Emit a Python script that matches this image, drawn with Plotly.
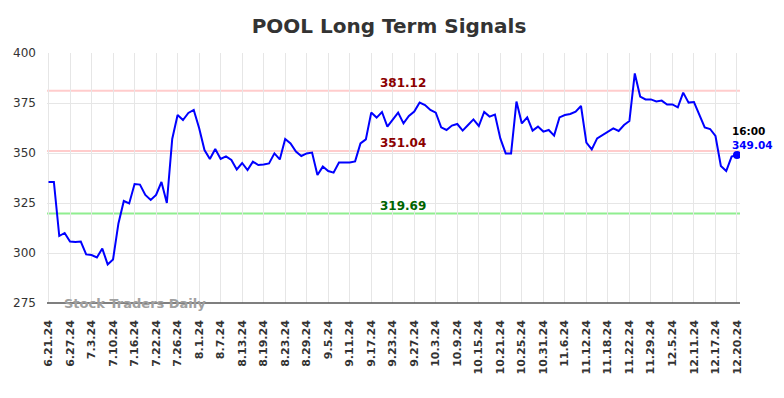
import plotly.graph_objects as go

ticker = "POOL"
values = [
    335.5, 335.5, 308.5, 310.0, 305.7, 305.5, 305.7, 299.3, 299.0, 297.8,
    302.2, 294.3, 296.8, 314.8, 326.0, 324.8, 334.5, 334.2, 329.0, 326.5,
    329.0, 335.5, 325.0, 357.0, 369.0, 366.5, 370.0, 371.5, 362.5, 351.5,
    347.0, 352.0, 347.0, 348.3, 346.5, 341.8, 345.0, 341.5, 345.7, 344.0,
    344.3, 344.8, 349.8, 346.8, 357.0, 354.8, 350.7, 348.5, 349.8, 350.2,
    339.0, 343.2, 341.0, 340.2, 345.2, 345.2, 345.2, 345.8, 354.8, 356.8,
    370.2, 367.7, 370.5, 363.2, 366.5, 370.2, 364.8, 368.5, 370.7, 375.2,
    374.0, 371.5, 370.2, 362.8, 361.5, 363.7, 364.5, 361.2, 364.0, 366.8,
    363.5, 370.5, 368.2, 369.2, 357.3, 349.8, 349.8, 375.7, 364.8, 367.8,
    361.2, 363.2, 360.7, 361.5, 358.7, 367.8, 369.0, 369.5, 370.7, 373.5,
    355.2, 351.8, 357.3, 359.0, 360.7, 362.3, 361.0, 364.0, 366.0, 389.8,
    378.2, 376.8, 376.8, 375.8, 376.2, 374.2, 374.3, 372.8, 380.2, 375.2,
    375.5, 369.0, 362.8, 362.0, 358.5, 343.5, 341.0, 348.2, 349.04,
]
tick_labels = [
    "6.21.24", "6.27.24", "7.3.24", "7.10.24", "7.16.24", "7.22.24", "7.26.24",
    "8.1.24", "8.7.24", "8.13.24", "8.19.24", "8.23.24", "8.29.24", "9.5.24",
    "9.11.24", "9.17.24", "9.23.24", "9.27.24", "10.3.24", "10.9.24", "10.15.24",
    "10.21.24", "10.25.24", "10.31.24", "11.6.24", "11.12.24", "11.18.24",
    "11.22.24", "11.29.24", "12.5.24", "12.11.24", "12.17.24", "12.20.24",
]
tick_step = 4
resistance_high = 381.12
resistance_mid = 351.04
support = 319.69
last_time = "16:00"
y_ticks = [275, 300, 325, 350, 375, 400]

x = list(range(len(values)))
tick_vals = [i * tick_step for i in range(len(tick_labels))]

fig = go.Figure()
for lvl, col in [(resistance_high, "#ffcccc"), (resistance_mid, "#ffcccc"), (support, "#90ee90")]:
    fig.add_shape(type="line", xref="paper", x0=0, x1=1, yref="y", y0=lvl, y1=lvl,
                  line=dict(color=col, width=2), layer="below")

fig.add_trace(go.Scatter(x=x, y=values, mode="lines",
                         line=dict(color="#0000ff", width=2), hoverinfo="skip"))
fig.add_trace(go.Scatter(x=[x[-1]], y=[values[-1]], mode="markers",
                         marker=dict(color="#0000ff", size=8), hoverinfo="skip"))

fam = "DejaVu Sans"
fig.add_annotation(xref="paper", x=0.514, y=resistance_high, yshift=8, text=f"{resistance_high:.2f}",
                   showarrow=False, font=dict(family=fam, size=12, color="#8b0000", weight="bold"))
fig.add_annotation(xref="paper", x=0.514, y=resistance_mid, yshift=8, text=f"{resistance_mid:.2f}",
                   showarrow=False, font=dict(family=fam, size=12, color="#8b0000", weight="bold"))
fig.add_annotation(xref="paper", x=0.514, y=support, yshift=8, text=f"{support:.2f}",
                   showarrow=False, font=dict(family=fam, size=12, color="#006400", weight="bold"))
fig.add_annotation(x=x[-1], y=values[-1], xshift=-7, yshift=24, xanchor="left", text=last_time,
                   showarrow=False, font=dict(family=fam, size=10.5, color="#000000", weight="bold"))
fig.add_annotation(x=x[-1], y=values[-1], xshift=-7, yshift=10, xanchor="left", text=f"{values[-1]:.2f}",
                   showarrow=False, font=dict(family=fam, size=10.5, color="#0000ff", weight="bold"))
fig.add_annotation(xref="paper", yref="paper", x=0.021, y=0, xanchor="left", yanchor="middle",
                   text="Stock Traders Daily", showarrow=False,
                   font=dict(family=fam, size=13, color="#a0a0a0", weight="bold"))

fig.update_layout(
    width=784, height=398,
    margin=dict(l=39, r=52, t=45, b=103, autoexpand=False),
    paper_bgcolor="white", plot_bgcolor="white",
    showlegend=False,
    title=dict(text=f"<b>{ticker} Long Term Signals</b>", x=0.486, xanchor="center", y=0.955, yanchor="middle",
               font=dict(family=fam, size=20, color="#333333")),
    font=dict(family=fam, color="#333333"),
)
fig.update_xaxes(range=[-0.28, len(values) - 1 + 0.56], tickmode="array", tickvals=tick_vals,
                 ticktext=[f"<b>{t}</b>" for t in tick_labels], tickangle=-90,
                 tickfont=dict(size=11, color="#333333"), showgrid=True, gridcolor="#e6e6e6",
                 gridwidth=1, zeroline=False, showline=False, ticks="", ticklabelstandoff=14)
fig.update_yaxes(range=[275, 400], tickvals=y_ticks, tickfont=dict(size=12, color="#333333"),
                 showgrid=True, gridcolor="#e6e6e6", gridwidth=1, zeroline=False, showline=False,
                 ticks="", ticklabelstandoff=10)
fig.add_shape(type="line", xref="paper", yref="paper", x0=0, x1=1, y0=0, y1=0,
              line=dict(color="#555555", width=1.5))

fig.write_html("out.html")
